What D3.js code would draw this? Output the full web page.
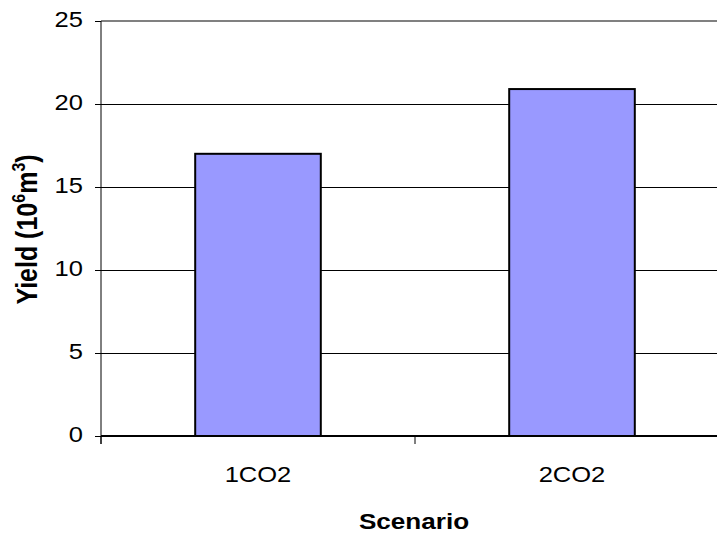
<!DOCTYPE html>
<html>
<head>
<meta charset="utf-8">
<script src="https://cdn.jsdelivr.net/npm/d3@7"></script>
<style>
html,body{margin:0;padding:0;background:#fff;}
svg{display:block;}
text{font-family:Arial,"Liberation Sans",sans-serif;fill:#000;}
</style>
</head>
<body>
<script>
const categories = ["1CO2", "2CO2"];
const yieldValues = [17.0, 20.9];
const yTicks = [0, 5, 10, 15, 20, 25];

(function () {
const W = 717, H = 535;
const SX = 1.16; // horizontal stretch of text
const svg = d3.select("body").append("svg").attr("width", W).attr("height", H);

const pLeft = 101, pRight = 729, pTop = 21, pBottom = 436;
const x = d3.scaleBand().domain(categories).range([pLeft, pRight]).padding(0);
const y = d3.scaleLinear().domain([0, 25]).range([pBottom, pTop]);

// gridlines
svg.append("g").selectAll("line").data(yTicks.filter(d => d > 0 && d < 25)).join("line")
  .attr("x1", pLeft).attr("x2", pRight)
  .attr("y1", d => y(d)).attr("y2", d => y(d))
  .attr("stroke", "#000").attr("stroke-width", 1).attr("shape-rendering", "crispEdges");

// plot area border (top gray)
svg.append("line").attr("x1", pLeft).attr("x2", pRight).attr("y1", y(25)).attr("y2", y(25))
  .attr("stroke", "#808080").attr("stroke-width", 2).attr("shape-rendering", "crispEdges");

// bars
const bw = x.bandwidth() * 0.4;
svg.append("g").selectAll("rect").data(categories).join("rect")
  .attr("x", d => x(d) + x.bandwidth() / 2 - bw / 2)
  .attr("y", (d, i) => y(yieldValues[i]))
  .attr("width", bw)
  .attr("height", (d, i) => y(0) - y(yieldValues[i]))
  .attr("fill", "#9999FF").attr("stroke", "#000").attr("stroke-width", 2);

// y axis
const yAxis = d3.axisLeft(y).tickValues(yTicks).tickSize(6).tickFormat(() => "");
const gy = svg.append("g").attr("transform", `translate(${pLeft},0)`).call(yAxis);
gy.select(".domain").attr("stroke", "#000").attr("d", `M0,${pTop}V${pBottom + 8}`);
gy.selectAll(".tick line").attr("stroke", "#000");
gy.selectAll(".tick text").remove();
svg.append("g").selectAll("text").data(yTicks).join("text")
  .attr("transform", d => `translate(${pLeft - 18},${y(d) + 6}) scale(${SX},1)`)
  .attr("text-anchor", "end").attr("font-size", 22).text(d3.format("d"));

// x axis
const boundaries = [pLeft, pLeft + x.bandwidth(), pLeft + 2 * x.bandwidth()];
const gx = svg.append("g");
gx.append("line").attr("x1", pLeft).attr("x2", pRight).attr("y1", pBottom).attr("y2", pBottom)
  .attr("stroke", "#000").attr("stroke-width", 2).attr("shape-rendering", "crispEdges");
gx.selectAll("line.t").data(boundaries).join("line").attr("class", "t")
  .attr("x1", d => d).attr("x2", d => d).attr("y1", pBottom).attr("y2", pBottom + 8)
  .attr("stroke", "#000").attr("stroke-width", 1);
gx.selectAll("text").data(categories).join("text")
  .attr("transform", d => `translate(${x(d) + x.bandwidth() / 2},482) scale(${SX},1)`)
  .attr("text-anchor", "middle").attr("font-size", 22).text(d => d);

// axis titles
svg.append("text").attr("transform", `translate(414,529) scale(${SX},1)`)
  .attr("text-anchor", "middle").attr("font-size", 22.5).attr("font-weight", "bold").text("Scenario");

const yt = svg.append("text").attr("transform", `translate(37,${(pTop + pBottom) / 2 + 1}) scale(${SX},1) rotate(-90)`)
  .attr("text-anchor", "middle").attr("font-size", 25).attr("font-weight", "bold");
yt.append("tspan").text("Yield (10");
yt.append("tspan").attr("font-size", 16).attr("dy", -10).text("6");
yt.append("tspan").attr("dy", 10).text("m");
yt.append("tspan").attr("font-size", 16).attr("dy", -10).text("3");
yt.append("tspan").attr("dy", 10).text(")");
})();
</script>
</body>
</html>
